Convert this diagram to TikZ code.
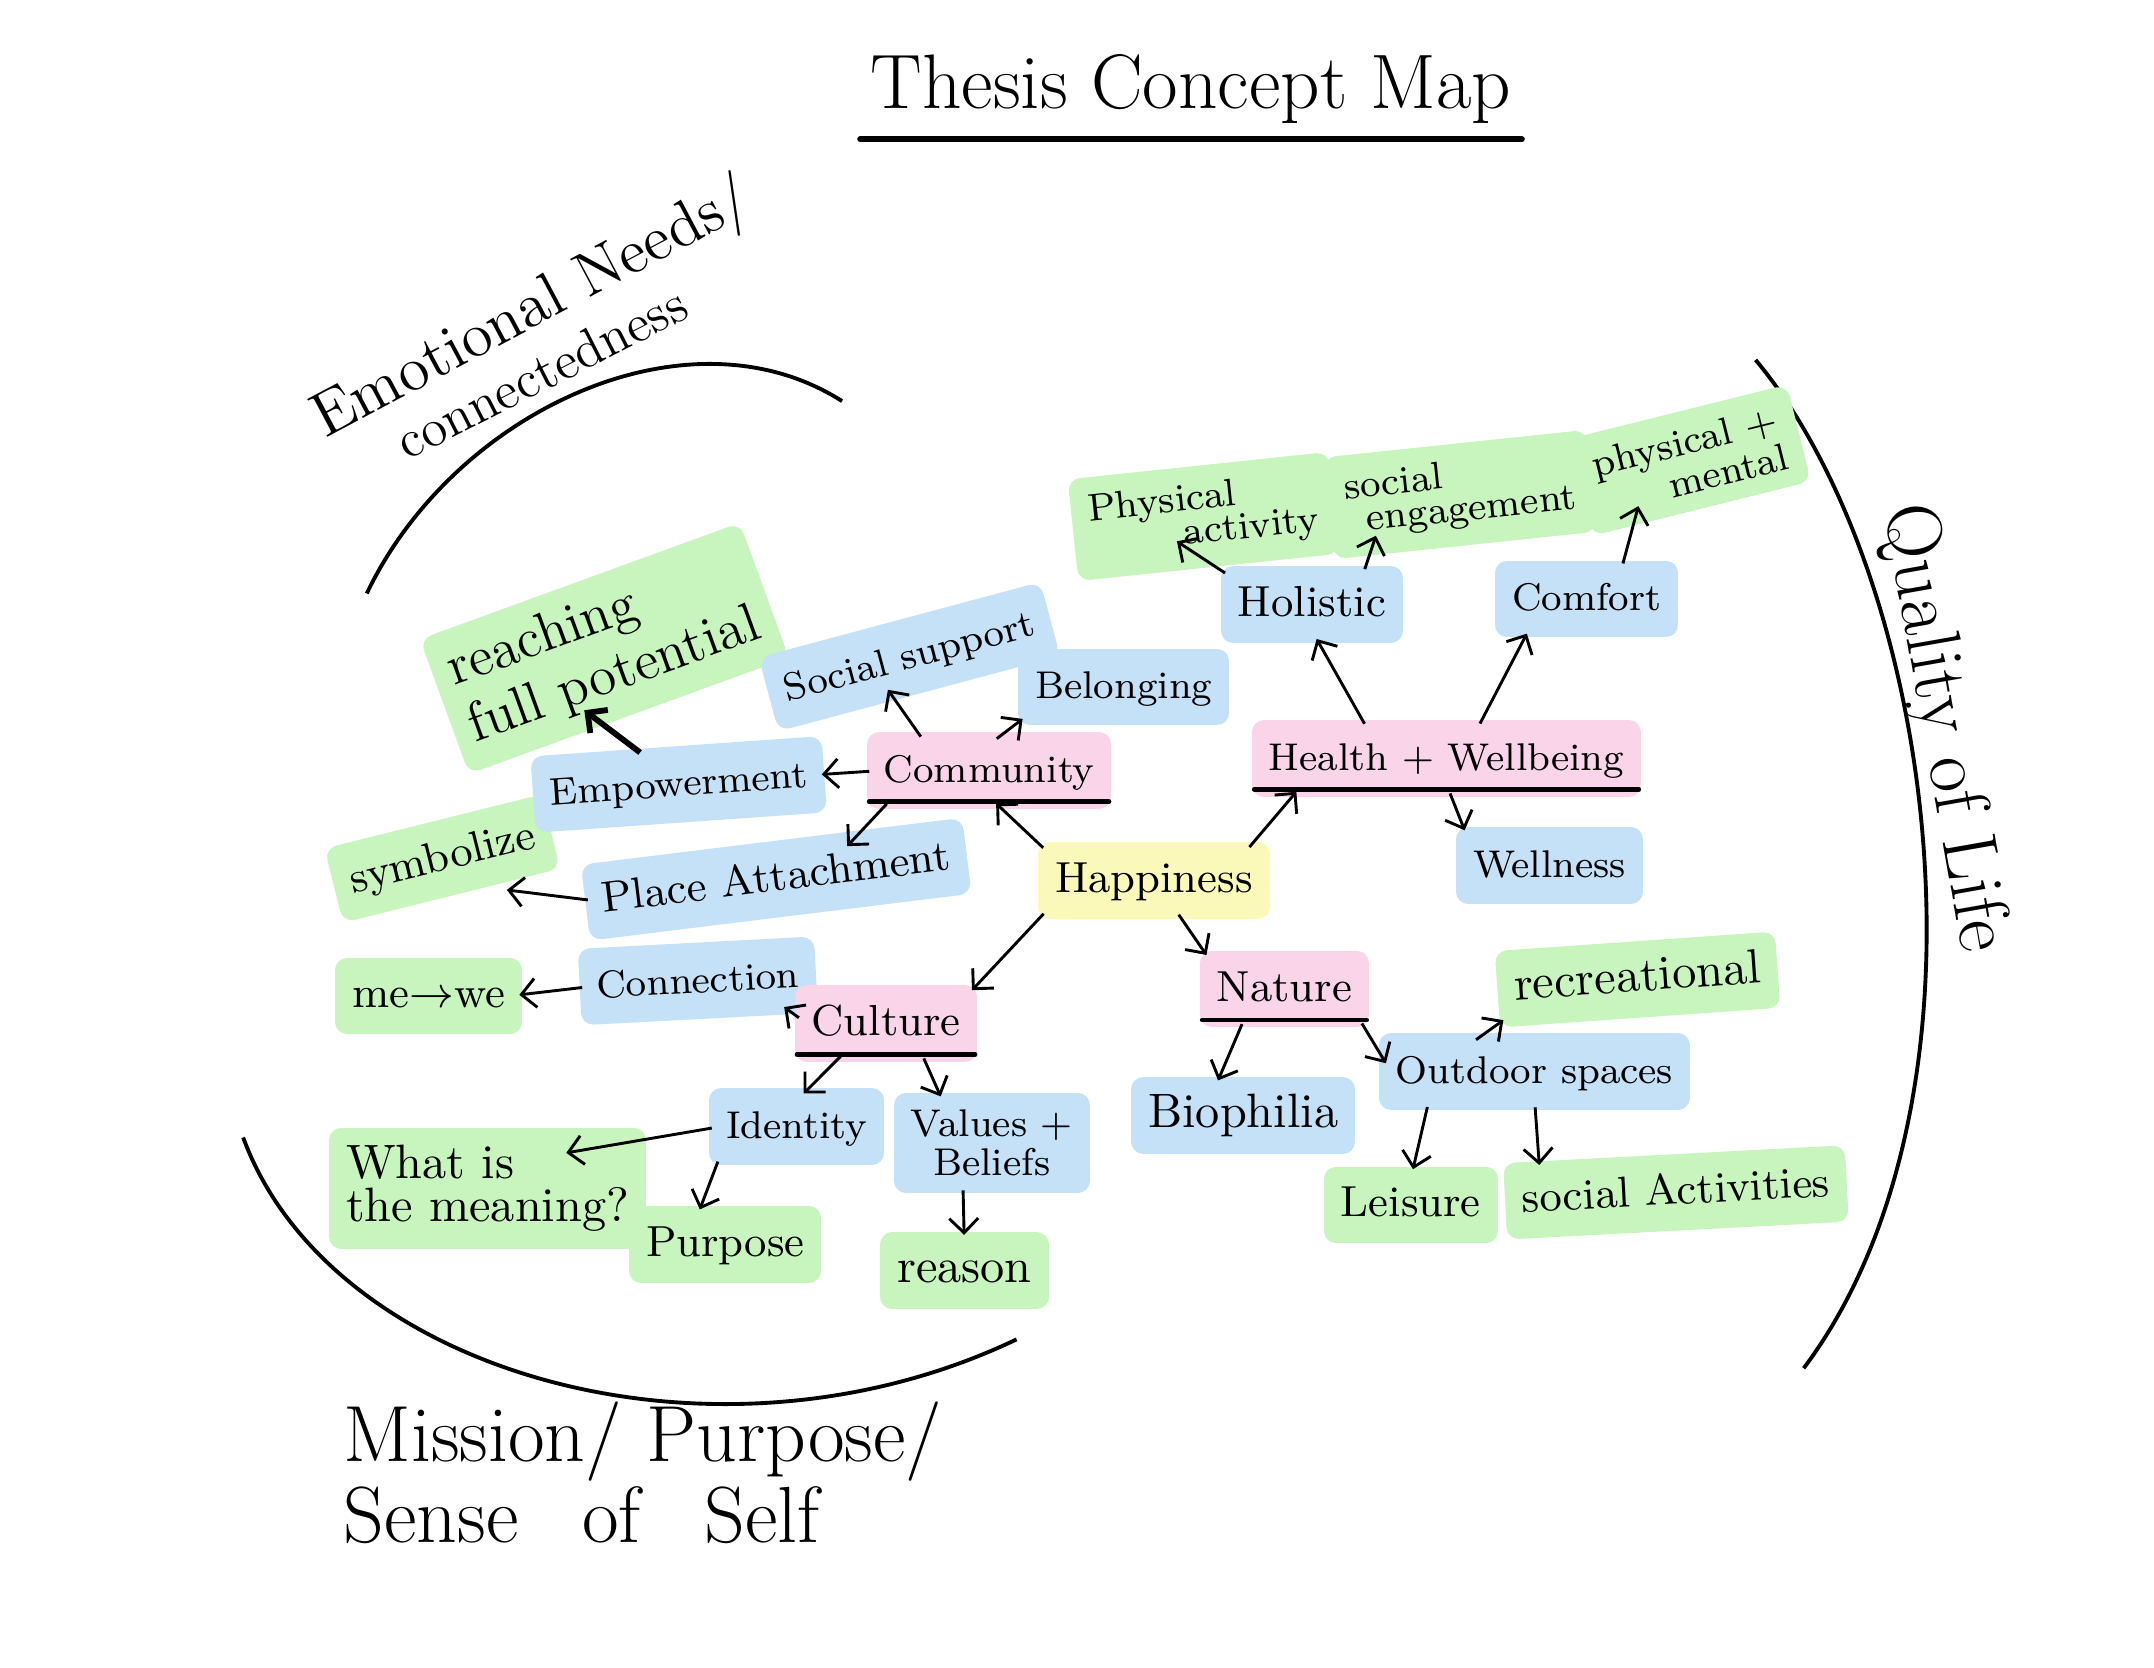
\documentclass[tikz,border=0pt]{standalone}
\usetikzlibrary{arrows.meta}
\definecolor{hlgreen}{RGB}{200,244,190}
\definecolor{hlblue}{RGB}{197,225,248}
\definecolor{hlpink}{RGB}{250,213,234}
\definecolor{hlyellow}{RGB}{250,249,186}
\newcommand{\handS}{\fontsize{8}{9}\selectfont}
\newcommand{\handM}{\fontsize{9}{10}\selectfont}
\newcommand{\handL}{\fontsize{10}{11}\selectfont}
\tikzset{
    hl/.style={
        fill=#1,
        draw=#1,
        line width=5pt,
        line join=round,
        outer sep=0pt,
        inner sep=1pt,
        font=\handM
    },
    word/.style={text height=1.6ex, text depth=0.45ex},
    core/.style={hl=hlyellow, word},
    topic/.style={hl=hlpink, word},
    idea/.style={hl=hlblue, word},
    goal/.style={hl=hlgreen, word},
    ideablock/.style={hl=hlblue, align=left},
    goalblock/.style={hl=hlgreen, align=left},
    heading/.style={inner sep=0pt},
    arr/.style={
        -{Straight Barb[length=3pt,width=6pt]},
        line width=0.6pt,
        shorten >=2pt,
        shorten <=2pt
    },
    uline/.style={line width=1pt, line cap=round},
    sweep/.style={line width=0.8pt}
}

\begin{document}
\begin{tikzpicture}[x=0.1mm, y=-0.1mm]
    \fill[white] (0,0) rectangle (1568,1214);
    \useasboundingbox (0,0) rectangle (1568,1214);

    \node[heading, inner xsep=2pt, font=\fontsize{16}{17}\selectfont] (title) at (867,65) {Thesis Concept Map};
    \draw[uline, line width=1.2pt] ([yshift=-3pt]title.south west) -- ([yshift=-3pt]title.south east);

    \node[heading, rotate=28, font=\fontsize{13}{14}\selectfont] (emo) at (388,226) {Emotional Needs/};
    \node[heading, rotate=27, font=\fontsize{11}{12}\selectfont] (conn) at (394,271) {connectedness};
    \node[heading, rotate=-80, font=\fontsize{16}{17}\selectfont] (qol) at (1414,530) {Quality of Life};
    \node[heading, align=left, font=\fontsize{16.5}{15}\selectfont] (mps) at (468,1072) {Mission/ Purpose/\\Sense\hspace{0.8em}of\hspace{0.8em}Self};

    \draw[sweep] (267,432) .. controls (330,300) and (500,220) .. (613,292);
    \draw[sweep] (1278,262) .. controls (1410,420) and (1460,800) .. (1313,996);
    \draw[sweep] (177,828) .. controls (240,1000) and (520,1080) .. (740,975);

    \node[goalblock, font=\fontsize{11.5}{12.5}\selectfont, rotate=20] (rfp) at (440,472) {reaching\\full potential};
    \node[goal, rotate=14] (sym) at (322,625) {symbolize};
    \node[goal] (mew) at (312,725) {me${\rightarrow}$we};
    \node[goalblock, font=\fontsize{10}{9}\selectfont] (wim) at (355,865) {What is\\the meaning?};
    \node[goal] (pur) at (528,906) {Purpose};
    \node[goal, font=\handL] (rea) at (702,925) {reason};
    \node[goalblock, font=\fontsize{8}{7}\selectfont, rotate=6] (pact) at (876,376) {Physical\\\hspace*{2.4em}activity};
    \node[goalblock, font=\fontsize{8}{7}\selectfont, rotate=6] (seng) at (1063,360) {social\\\hspace*{0.5em}engagement};
    \node[goalblock, font=\fontsize{8}{8}\selectfont, rotate=14] (pm) at (1230,335) {physical +\\\hspace*{1.8em}mental};
    \node[goal, font=\handL, rotate=4] (rec) at (1192,713) {recreational};
    \node[goal] (lei) at (1027,877) {Leisure};
    \node[goal, rotate=3] (sact) at (1220,868) {social Activities};

    \node[idea, font=\handS, rotate=15] (ss) at (662,478) {Social support};
    \node[idea, font=\handS] (bel) at (818,500) {Belonging};
    \node[idea, font=\handS, rotate=4] (emp) at (494,571) {Empowerment};
    \node[idea, rotate=7] (pa) at (565,640) {Place Attachment};
    \node[idea, font=\handS, rotate=3] (con) at (508,714) {Connection};
    \node[idea, font=\handS] (idn) at (580,820) {Identity};
    \node[ideablock, font=\fontsize{8}{8}\selectfont, align=center] (vb) at (722,832) {Values +\\Beliefs};
    \node[idea] (hol) at (955,440) {Holistic};
    \node[idea, font=\handS] (cmf) at (1155,436) {Comfort};
    \node[idea, font=\handS] (wel) at (1128,630) {Wellness};
    \node[idea, font=\handS] (out) at (1117,780) {Outdoor spaces};
    \node[idea, font=\handL] (bio) at (905,812) {Biophilia};

    \node[topic, font=\handS] (com) at (720,561) {Community};
    \node[topic, font=\handS] (hw) at (1053,552) {Health + Wellbeing};
    \node[topic] (cul) at (645,745) {Culture};
    \node[topic] (nat) at (935,720) {Nature};
    \node[core] (hap) at (840,641) {Happiness};

    \foreach \n in {com,hw,cul,nat}
        \draw[uline] ([xshift=-2pt,yshift=-1pt]\n.south west) -- ([xshift=2pt,yshift=-1pt]\n.south east);

    \draw[arr] (hap.north west) -- (com.south);
    \draw[arr] ([xshift=-3pt]hap.north east) -- ([xshift=8pt]hw.south west);
    \draw[arr] (hap.south west) -- (cul.north east);
    \draw[arr] ([xshift=4pt]hap.south) -- (nat.north west);

    \draw[arr] ([xshift=-13pt]com.north) -- ([xshift=-7pt]ss.south);
    \draw[arr] (com.north) -- (bel.south west);
    \draw[arr] (com.west) -- (emp.east);
    \draw[arr] ([xshift=3pt]com.south west) -- ([xshift=14pt]pa.north);
    \draw[arr, line width=1.2pt] ([xshift=-6pt]emp.north) -- ([xshift=-10pt]rfp.south);
    \draw[arr] (pa.west) -- ([xshift=-10pt,yshift=-6pt]sym.south east);

    \draw[arr] (cul.west) -- ([xshift=-6pt]con.south east);
    \draw[arr] (con.west) -- (mew.east);
    \draw[arr] ([xshift=-8pt]cul.south) -- (idn.north);
    \draw[arr] ([xshift=7pt]cul.south) -- ([xshift=8pt]vb.north west);
    \draw[arr] (idn.west) -- ([xshift=-16pt,yshift=-3pt]wim.north east);
    \draw[arr] (idn.south west) -- ([xshift=-6pt]pur.north);
    \draw[arr] ([xshift=-6pt]vb.south) -- (rea.north);

    \draw[arr] ([xshift=-16pt]hw.north) -- (hol.south);
    \draw[arr] ([xshift=6pt]hw.north) -- ([xshift=5pt]cmf.south west);
    \draw[arr] (hw.south) -- (wel.north west);
    \draw[arr] (hol.north west) -- ([xshift=-8pt,yshift=4pt]pact.south);
    \draw[arr] ([xshift=-6pt]hol.north east) -- ([xshift=7pt,yshift=4pt]seng.south west);
    \draw[arr] ([xshift=7pt]cmf.north) -- ([xshift=-12pt]pm.south);

    \draw[arr] ([xshift=-8pt]nat.south) -- ([xshift=-6pt]bio.north);
    \draw[arr] (nat.south east) -- (out.west);
    \draw[arr] ([xshift=16pt]out.north west) -- (rec.south west);
    \draw[arr] ([xshift=8pt]out.south west) -- (lei.north);
    \draw[arr] (out.south) -- ([xshift=5pt]sact.north west);
\end{tikzpicture}
\end{document}
